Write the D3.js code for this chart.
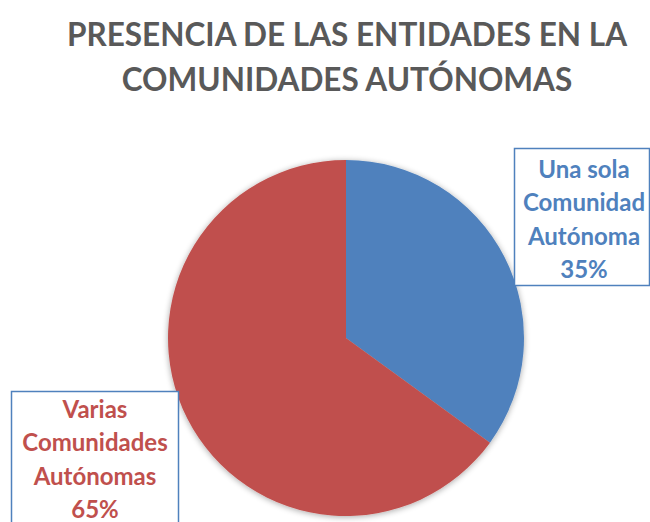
<!DOCTYPE html>
<html>
<head>
<meta charset="utf-8">
<script src="https://cdn.jsdelivr.net/npm/d3@7"></script>
<style>
	body { margin: 0; background: #fff; }
	svg { display: block; font-family: Lato, "Open Sans", sans-serif; }
</style>
</head>
<body>
<div id="chart-area"></div>
<script>
// data
const categories = ["Una sola Comunidad Autónoma", "Varias Comunidades Autónomas"];
const values = [35, 65];
const labelLines = [
	["Una sola", "Comunidad", "Autónoma", "35%"],
	["Varias", "Comunidades", "Autónomas", "65%"]
];
const titleLines = ["PRESENCIA DE LAS ENTIDADES EN LA", "COMUNIDADES AUTÓNOMAS"];
const colors = ["#4F81BD", "#C0504D"];

const width = 650, height = 522;
const cx = 346, cy = 338, radius = 178;

let svg = d3.select("#chart-area").append("svg")
	.attr("width", width)
	.attr("height", height);

// soft shadow like the original
let defs = svg.append("defs");
let filter = defs.append("filter")
	.attr("id", "shadow")
	.attr("x", "-10%").attr("y", "-10%")
	.attr("width", "120%").attr("height", "120%");
filter.append("feGaussianBlur")
	.attr("in", "SourceAlpha")
	.attr("stdDeviation", 3);
filter.append("feOffset").attr("dx", 0).attr("dy", 1).attr("result", "blur");
filter.append("feComponentTransfer").append("feFuncA")
	.attr("type", "linear").attr("slope", 0.35);
let merge = filter.append("feMerge");
merge.append("feMergeNode");
merge.append("feMergeNode").attr("in", "SourceGraphic");

// title
svg.append("g")
	.selectAll("text")
	.data(titleLines)
	.enter()
	.append("text")
	.attr("x", 347)
	.attr("y", (d, i) => 46 + i * 45)
	.attr("text-anchor", "middle")
	.attr("fill", "#595959")
	.attr("font-size", 31.5)
	.attr("font-weight", "bold")
	.text(d => d);

// pie
let pie = d3.pie().sort(null);
let arc = d3.arc().innerRadius(0).outerRadius(radius);

svg.append("g")
	.attr("transform", "translate(" + cx + "," + cy + ")")
	.attr("filter", "url(#shadow)")
	.selectAll("path")
	.data(pie(values))
	.enter()
	.append("path")
	.attr("d", arc)
	.attr("fill", (d, i) => colors[i]);

// label boxes
const boxes = [
	{ x: 514.5, y: 148.5, w: 135, h: 137, tx: 584, ty: 178 },
	{ x: 11.5, y: 391.5, w: 167, h: 140, tx: 95, ty: 418 }
];

boxes.forEach((b, i) => {
	let g = svg.append("g").attr("class", "label");
	g.append("rect")
		.attr("x", b.x).attr("y", b.y)
		.attr("width", b.w).attr("height", b.h)
		.attr("fill", "#fff")
		.attr("stroke", "#4F81BD")
		.attr("stroke-width", 1.5);
	g.selectAll("text")
		.data(labelLines[i])
		.enter()
		.append("text")
		.attr("x", b.tx)
		.attr("y", (d, j) => b.ty + j * 33.3)
		.attr("text-anchor", "middle")
		.attr("fill", colors[i])
		.attr("font-size", 24)
		.attr("font-weight", "bold")
		.text(d => d);
});
</script>
</body>
</html>
